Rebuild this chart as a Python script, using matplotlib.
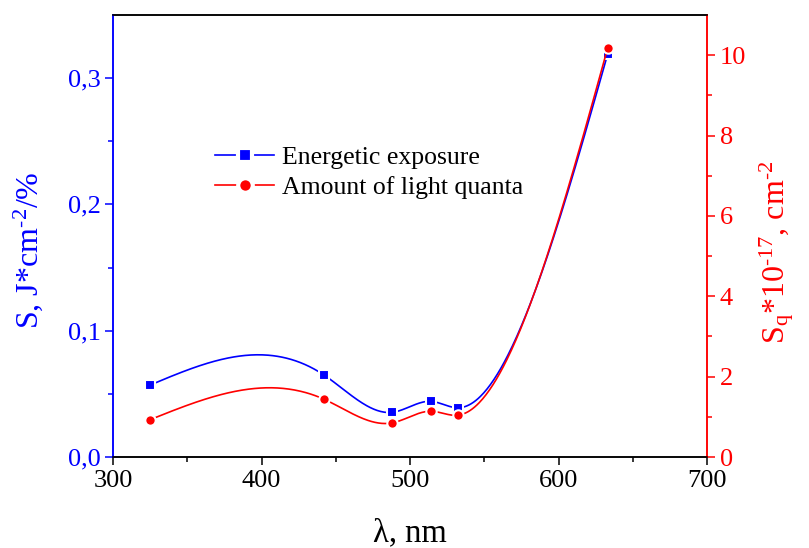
import numpy as np
import matplotlib
matplotlib.use('Agg')
import matplotlib.pyplot as plt
from matplotlib.ticker import FuncFormatter, MultipleLocator, FixedLocator

# laser wavelengths, nm
wavelength = [325, 442, 488, 514, 532, 633]
# energetic exposure, J*cm^-2/%
exposure = [0.057, 0.065, 0.0354, 0.0441, 0.039, 0.3188]
# amount of light quanta, 10^17 cm^-2
quanta = [0.93, 1.44, 0.85, 1.14, 1.04, 10.17]

plt.rcParams['font.family'] = ['Liberation Serif', 'DejaVu Serif']
plt.rcParams['mathtext.fontset'] = 'stix'
plt.rcParams['mathtext.default'] = 'regular'


def natural_spline(x, y, n=400):
    # natural cubic spline through the points, for the smooth connecting line
    x = np.asarray(x, float)
    y = np.asarray(y, float)
    k = len(x)
    h = np.diff(x)
    A = np.zeros((k, k))
    b = np.zeros(k)
    A[0, 0] = A[-1, -1] = 1
    for i in range(1, k - 1):
        A[i, i - 1] = h[i - 1]
        A[i, i] = 2 * (h[i - 1] + h[i])
        A[i, i + 1] = h[i]
        b[i] = 6 * ((y[i + 1] - y[i]) / h[i] - (y[i] - y[i - 1]) / h[i - 1])
    m = np.linalg.solve(A, b)
    xs = np.linspace(x[0], x[-1], n)
    idx = np.clip(np.searchsorted(x, xs) - 1, 0, k - 2)
    x0, x1 = x[idx], x[idx + 1]
    hh = x1 - x0
    t0, t1 = x1 - xs, xs - x0
    ys = (m[idx] * t0**3 / (6 * hh) + m[idx + 1] * t1**3 / (6 * hh)
          + (y[idx] / hh - m[idx] * hh / 6) * t0
          + (y[idx + 1] / hh - m[idx + 1] * hh / 6) * t1)
    return xs, ys


fig = plt.figure(figsize=(8.09, 5.48), dpi=100)
ax = fig.add_axes([0.1397, 0.166, 0.7343, 0.8066])
ax2 = ax.twinx()

blue = '#0000ff'
red = '#ff0000'
sq = dict(marker='s', ms=7, mec='white', mew=1.5)
ci = dict(marker='o', ms=7.5, mec='white', mew=1.5)

xs, ys = natural_spline(wavelength, exposure)
ax.plot(xs, ys, color=blue, lw=1.2, zorder=2)
ax.plot(wavelength, exposure, ls='none', color=blue, zorder=3, **sq)

xs, ys = natural_spline(wavelength, quanta)
ax2.plot(xs, ys, color=red, lw=1.2, zorder=2)
ax2.plot(wavelength, quanta, ls='none', color=red, zorder=3, **ci)

ax.set_xlim(300, 700)
ax.set_ylim(0, 0.35)
ax2.set_ylim(0, 11)

comma = FuncFormatter(lambda v, p: f'{v:.1f}'.replace('.', ','))
ax.xaxis.set_major_locator(MultipleLocator(100))
ax.xaxis.set_minor_locator(MultipleLocator(50))
ax.yaxis.set_major_locator(MultipleLocator(0.1))
ax.yaxis.set_minor_locator(FixedLocator([0.05, 0.15, 0.25]))
ax.yaxis.set_major_formatter(comma)
ax2.yaxis.set_major_locator(MultipleLocator(2))
ax2.yaxis.set_minor_locator(FixedLocator([1, 3, 5, 7, 9]))

for a in (ax, ax2):
    for s in a.spines.values():
        s.set_linewidth(1.1)
    a.spines['left'].set_color(blue)
    a.spines['right'].set_color(red)

ax.tick_params(axis='x', which='major', direction='out', length=6, width=1.1,
               labelsize=19, pad=3)
ax.tick_params(axis='x', which='minor', direction='out', length=3.5, width=1.1)
ax.tick_params(axis='y', which='major', direction='out', length=6, width=1.1,
               labelsize=19, color=blue, labelcolor=blue, pad=3)
ax.tick_params(axis='y', which='minor', direction='out', length=3.5, width=1.1,
               color=blue)
ax2.tick_params(axis='y', which='major', direction='out', length=6, width=1.1,
                labelsize=19, color=red, labelcolor=red, pad=3)
ax2.tick_params(axis='y', which='minor', direction='out', length=3.5, width=1.1,
                color=red)

ax.set_xlabel('λ, nm', fontsize=23.5, labelpad=19)
ax.set_ylabel(r'S, J*cm$^{\text{-}2}$/%', fontsize=23, color=blue)
ax.yaxis.set_label_coords(-0.114, 0.468)
ax2.set_ylabel(r'S$_q$*10$^{\text{-}17}$, cm$^{\text{-}2}$', fontsize=23,
               color=red)
ax2.yaxis.set_label_coords(1.084, 0.463)

# legend handles: line - gap - marker - gap - line
h1, = ax.plot([], [], color=blue, lw=1.2, marker='s', ms=10, mec='white', mew=3)
h2, = ax.plot([], [], color=red, lw=1.2, marker='o', ms=10.5, mec='white', mew=3)
ax.legend([h1, h2], ['Energetic exposure', 'Amount of light quanta'],
          loc='center left', bbox_to_anchor=(0.172, 0.644), frameon=False,
          fontsize=18.5, handlelength=2.3, handletextpad=0.3,
          labelspacing=0.3, borderpad=0, borderaxespad=0)

fig.savefig('out.png', dpi=100)
